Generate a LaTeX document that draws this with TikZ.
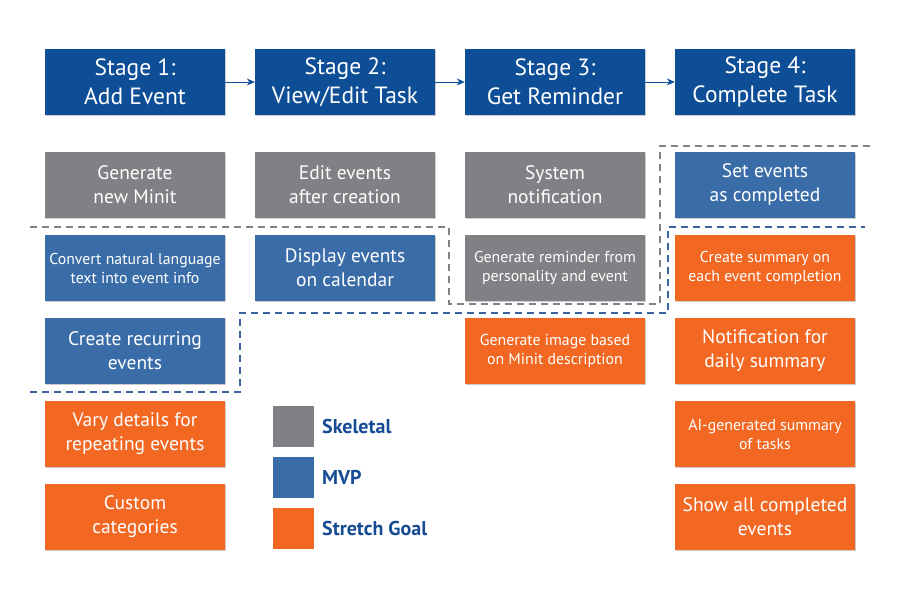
\documentclass[tikz,border=0pt]{standalone}
\usepackage{fontspec}
\setmainfont{PT Sans}
\usetikzlibrary{arrows.meta,shadows}
\definecolor{stageblue}{RGB}{14,78,150}
\definecolor{skelgray}{RGB}{128,129,132}
\definecolor{mvpblue}{RGB}{58,109,168}
\definecolor{strorange}{RGB}{242,103,34}
\definecolor{dashblue}{RGB}{58,100,160}
\definecolor{legtext}{RGB}{22,76,148}
\newcommand\stfnt{\fontsize{23.5}{29}\selectfont}
\newcommand\bfnt{\fontsize{19.5}{24}\selectfont}
\newcommand\sfnt{\fontsize{15.8}{19}\selectfont}
\begin{document}
\begin{tikzpicture}[x=1pt,y=-1pt,
  box/.style={minimum width=180pt,minimum height=66pt,inner sep=0pt,align=center,
    text=white,font=\bfnt,
    drop shadow={shadow xshift=1.2pt,shadow yshift=-1.2pt,opacity=0.2,fill=black}},
  small/.style={font=\sfnt},
  stagebox/.style={box,fill=stageblue,font=\stfnt},
  skel/.style={box,fill=skelgray},
  mvp/.style={box,fill=mvpblue},
  stretch/.style={box,fill=strorange},
  flow/.style={draw=stageblue,line width=0.9pt,-{Stealth[length=8pt,width=7pt]}},
  graydash/.style={draw=skelgray,line width=1.6pt,dash pattern=on 7pt off 5pt},
  bluedash/.style={draw=dashblue,line width=1.6pt,dash pattern=on 7pt off 5pt},
  legsq/.style={minimum size=41pt,inner sep=0pt},
  legtxt/.style={anchor=west,inner sep=0pt,text=legtext,font=\fontsize{20}{24}\selectfont\bfseries}
]
\useasboundingbox[fill=white] (0,0) rectangle (900,600);

% stages
\node[stagebox] (s1) at (135,82) {Stage 1:\\Add Event};
\node[stagebox] (s2) at (345,82) {Stage 2:\\View/Edit Task};
\node[stagebox] (s3) at (555,82) {Stage 3:\\Get Reminder};
\node[stagebox] (s4) at (765,82) {Stage 4:\\Complete Task};
\draw[flow] (s1) -- (s2);
\draw[flow] (s2) -- (s3);
\draw[flow] (s3) -- (s4);

% column 1
\node[skel] (a1) at (135,185) {Generate\\new Minit};
\node[mvp,small] (a2) at (135,268) {Convert natural language\\text into event info};
\node[mvp] (a3) at (135,351) {Create recurring\\events};
\node[stretch] (a4) at (135,434) {Vary details for\\repeating events};
\node[stretch] (a5) at (135,517) {Custom\\categories};

% column 2
\node[skel] (b1) at (345,185) {Edit events\\after creation};
\node[mvp] (b2) at (345,268) {Display events\\on calendar};

% column 3
\node[skel] (c1) at (555,185) {System\\notification};
\node[skel,small] (c2) at (555,268) {Generate reminder from\\personality and event};
\node[stretch,small] (c3) at (555,351) {Generate image based\\on Minit description};

% column 4
\node[mvp] (d1) at (765,185) {Set events\\as completed};
\node[stretch,small] (d2) at (765,268) {Create summary on\\each event completion};
\node[stretch] (d3) at (765,351) {Notification for\\daily summary};
\node[stretch,small] (d4) at (765,434) {AI-generated summary\\of tasks};
\node[stretch] (d5) at (765,517) {Show all completed\\events};

% boundaries
\draw[graydash] (30,227) -- (449,227) -- (449,304) -- (660,304) -- (660,146) -- (870,146);
\draw[bluedash] (30,392) -- (240,392) -- (240,313) -- (668,313) -- (668,227) -- (865,227);

% legend
\node[legsq,fill=skelgray] (l1) at (293.5,426.5) {};
\node[legsq,fill=mvpblue] (l2) at (293.5,477.5) {};
\node[legsq,fill=strorange] (l3) at (293.5,528.5) {};
\node[legtxt] (t1) at (322,426.5) {Skeletal};
\node[legtxt] (t2) at (322,477.5) {MVP};
\node[legtxt] (t3) at (322,528.5) {Stretch Goal};
\end{tikzpicture}
\end{document}
